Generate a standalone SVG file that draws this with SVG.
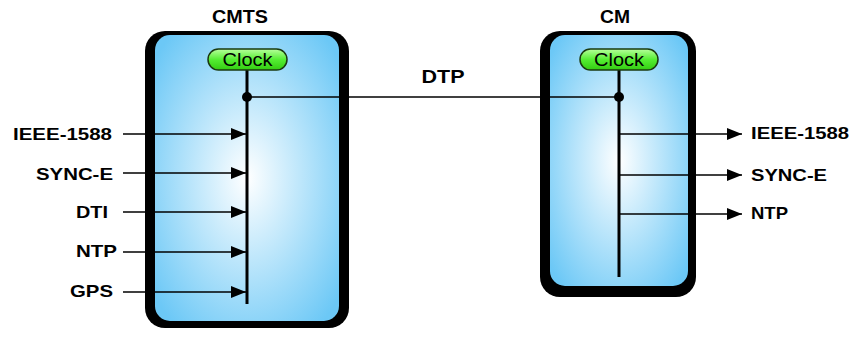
<svg xmlns="http://www.w3.org/2000/svg" width="851" height="339" viewBox="0 0 851 339">
<defs>
<radialGradient id="bg" cx="50%" cy="50%" r="65%">
<stop offset="0" stop-color="#ffffff"/>
<stop offset="1" stop-color="#6cc8f6"/>
</radialGradient>
<linearGradient id="gg" x1="0" y1="0" x2="0" y2="1">
<stop offset="0" stop-color="#b8ff9c"/>
<stop offset="0.5" stop-color="#55ee33"/>
<stop offset="1" stop-color="#33cc11"/>
</linearGradient>
<marker id="ah" viewBox="0 0 15 12" refX="15" refY="6" markerWidth="15" markerHeight="12" markerUnits="userSpaceOnUse" orient="auto">
<path d="M0,0 L15,6 L0,12 Z" fill="#000"/>
</marker>
</defs>
<style>
.lbl{font-family:"Liberation Sans",Arial,sans-serif;font-weight:bold;font-size:17px;fill:#000}
.ttl{font-family:"Liberation Sans",Arial,sans-serif;font-weight:bold;font-size:18px;fill:#000}
.clk{font-family:"Liberation Sans",Arial,sans-serif;font-size:18px;fill:#000}
.shadow{fill:#000}
.body{fill:url(#bg)}
.pill{fill:url(#gg);stroke:#1a3a10;stroke-width:1.5}
.bus{stroke:#000;stroke-width:3;fill:none}
.conn{stroke:#000;stroke-width:1.5;fill:none}
.arr{stroke:#000;stroke-width:1.5;fill:none;marker-end:url(#ah)}
</style>
<rect width="851" height="339" fill="#fff"/>
<g id="cmts">
<rect class="shadow" x="145" y="31" width="204" height="297" rx="20"/>
<rect class="body" x="155" y="35" width="184" height="286" rx="15"/>
<text class="ttl" x="240" y="23" text-anchor="middle" textLength="56" lengthAdjust="spacingAndGlyphs">CMTS</text>
</g>
<g id="cm">
<rect class="shadow" x="540" y="31" width="156" height="266" rx="20"/>
<rect class="body" x="550" y="35" width="138" height="251" rx="15"/>
<text class="ttl" x="615" y="23" text-anchor="middle" textLength="30" lengthAdjust="spacingAndGlyphs">CM</text>
</g>
<g id="connectors">
<line class="bus" x1="247" y1="69" x2="247" y2="304"/>
<line class="bus" x1="619" y1="70" x2="619" y2="277"/>
<line class="conn" x1="247" y1="97" x2="619" y2="97"/>
<circle cx="247" cy="97" r="5" fill="#000"/>
<circle cx="619" cy="97" r="5" fill="#000"/>
<line class="arr" x1="123" y1="134" x2="246" y2="134"/>
<line class="arr" x1="123" y1="173" x2="246" y2="173"/>
<line class="arr" x1="123" y1="212" x2="246" y2="212"/>
<line class="arr" x1="123" y1="252" x2="246" y2="252"/>
<line class="arr" x1="123" y1="292" x2="246" y2="292"/>
<line class="arr" x1="619" y1="134" x2="742" y2="134"/>
<line class="arr" x1="619" y1="175" x2="742" y2="175"/>
<line class="arr" x1="619" y1="214" x2="742" y2="214"/>
<text class="ttl" x="443" y="83" text-anchor="middle" textLength="43" lengthAdjust="spacingAndGlyphs">DTP</text>
</g>
<g id="clock-cmts">
<rect class="pill" x="208" y="49" width="79" height="21" rx="10.5"/>
<text class="clk" x="247.5" y="66" text-anchor="middle" textLength="50" lengthAdjust="spacingAndGlyphs">Clock</text>
</g>
<g id="clock-cm">
<rect class="pill" x="580" y="49" width="78" height="21" rx="10.5"/>
<text class="clk" x="619" y="66" text-anchor="middle" textLength="50" lengthAdjust="spacingAndGlyphs">Clock</text>
</g>
<g id="in-labels">
<text class="lbl" x="13" y="140" textLength="99" lengthAdjust="spacingAndGlyphs">IEEE-1588</text>
<text class="lbl" x="36" y="180" textLength="77" lengthAdjust="spacingAndGlyphs">SYNC-E</text>
<text class="lbl" x="76" y="218" textLength="32" lengthAdjust="spacingAndGlyphs">DTI</text>
<text class="lbl" x="76" y="257" textLength="41" lengthAdjust="spacingAndGlyphs">NTP</text>
<text class="lbl" x="70" y="297" textLength="43" lengthAdjust="spacingAndGlyphs">GPS</text>
</g>
<g id="out-labels">
<text class="lbl" x="751" y="139" textLength="98" lengthAdjust="spacingAndGlyphs">IEEE-1588</text>
<text class="lbl" x="751" y="181" textLength="76" lengthAdjust="spacingAndGlyphs">SYNC-E</text>
<text class="lbl" x="751" y="219" textLength="37" lengthAdjust="spacingAndGlyphs">NTP</text>
</g>
</svg>
